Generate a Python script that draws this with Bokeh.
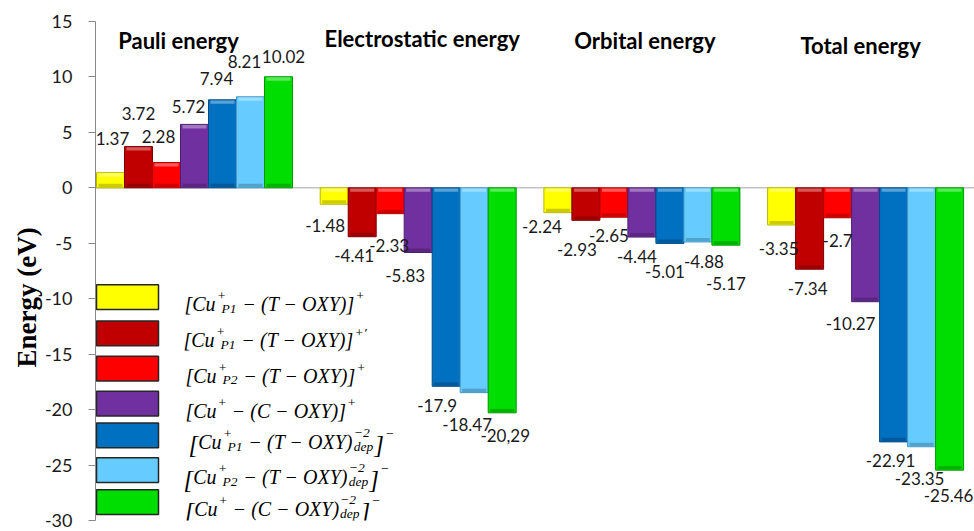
import math
from bokeh.plotting import figure
from bokeh.models import ColumnDataSource, FixedTicker, Span, Title, Range1d
from bokeh.core.properties import value
from bokeh.embed import file_html
from bokeh.resources import INLINE

# ---------------- data ----------------
groups = ["Pauli energy", "Electrostatic energy", "Orbital energy", "Total energy"]
pauli = [1.37, 3.72, 2.28, 5.72, 7.94, 8.21, 10.02]
electrostatic = [-1.48, -4.41, -2.33, -5.83, -17.9, -18.47, -20.29]
orbital = [-2.24, -2.93, -2.65, -4.44, -5.01, -4.88, -5.17]
total = [-3.35, -7.34, -2.7, -10.27, -22.91, -23.35, -25.46]
pauli_labels = ["1.37", "3.72", "2.28", "5.72", "7.94", "8.21", "10.02"]
electrostatic_labels = ["-1.48", "-4.41", "-2.33", "-5.83", "-17.9", "-18.47", "-20,29"]
orbital_labels = ["-2.24", "-2.93", "-2.65", "-4.44", "-5.01", "-4.88", "-5.17"]
total_labels = ["-3.35", "-7.34", "-2.7", "-10.27", "-22.91", "-23.35", "-25.46"]
y_ticks = [-30, -25, -20, -15, -10, -5, 0, 5, 10, 15]
y_label = "Energy (eV)"

# ---------------- style ----------------
colors = ["#FFFF00", "#C00000", "#FF0000", "#7030A0", "#0070C0", "#66CCFF", "#00DD00"]
edges = ["#B8B800", "#7A0000", "#B00000", "#4A1F6E", "#004C85", "#4496C8", "#009A00"]

# label offsets (px): dx from bar centre, dy away from bar end
lab_dx = [[2, 0, -8, -6, -6, -6, 5],
          [-9, -8, -1, -13, -9, -7, 3],
          [-16, -9, -5, -5, -5, 6, 0],
          [-3, -2, 0, -15, -3, -2, -1]]
lab_dy = [[34, 33, 26, 18, 21, 35, 20],
          [21, 19, 32, 23, 19, 32, 23],
          [14, 29, 18, 19, 28, 20, 38],
          [24, 19, 23, 22, 19, 32, 25]]
title_dx = [-16, 4, 3, -5]
title_py = [40, 38, 40, 45]

W, H = 974, 531
BL, BT, BB, BR = 95, 21, 11, 0
FW, FH = W - BL - BR, H - BT - BB
P = 223.7          # px per group
BARPX = 28.0
bw = BARPX / P
X0 = -3.5 * bw - 1.0 / P
X1 = X0 + FW / P
ppy = FH / 45.0


def rx(px):
    return X0 + (px - BL) / P


def ry(py):
    return (189 - py) / 11.2


p = figure(width=W, height=H, output_backend="svg", toolbar_location=None,
           x_range=Range1d(X0, X1), y_range=Range1d(-30, 15),
           min_border_left=BL, min_border_top=BT, min_border_bottom=BB,
           min_border_right=BR)
p.outline_line_color = None
p.xgrid.visible = False
p.ygrid.visible = False
p.xaxis.visible = False
p.background_fill_color = "white"
p.border_fill_color = "white"

ya = p.yaxis[0]
ya.ticker = FixedTicker(ticks=y_ticks)
ya.major_label_overrides = {t: str(t) for t in y_ticks}
ya.major_label_text_font = "Lato"
ya.major_label_text_font_size = "18px"
ya.major_label_text_color = "#1a1a1a"
ya.axis_line_color = "#8a8a8a"
ya.major_tick_line_color = "#8a8a8a"
ya.major_tick_out = 7
ya.major_tick_in = 0
ya.minor_tick_line_color = None
ya.major_label_standoff = 16

# y-axis title: left-aligned from frame bottom, shifted up so it centres near -9.5
p.add_layout(Title(text=y_label, text_font="Liberation Serif", text_font_style="bold",
                   text_font_size="27px", text_color="black", align="left",
                   offset=H - BB - 367, standoff=0), "left")

p.add_layout(Span(location=0, dimension="width", line_color="#a6a6a6",
                  line_width=1, level="underlay"))


def blend(hexc, other, t):
    c = [int(hexc[i:i + 2], 16) for i in (1, 3, 5)]
    o = [int(other[i:i + 2], 16) for i in (1, 3, 5)]
    m = [round(a * (1 - t) + b * t) for a, b in zip(c, o)]
    return "#%02x%02x%02x" % tuple(m)


series = [pauli, electrostatic, orbital, total]
labels = [pauli_labels, electrostatic_labels, orbital_labels, total_labels]

bx, btop, bbot, bfill, bline = [], [], [], [], []
lx, ly, lt = [], [], []
hl_l, hl_r, hl_t, hl_b, hl_c = [], [], [], [], []
dk_l, dk_r, dk_t, dk_b, dk_c = [], [], [], [], []
band = 4.0 / ppy
ins = 2.0 / P
for g, vals in enumerate(series):
    for j, v in enumerate(vals):
        x = g + (j - 3) * bw
        top, bot = max(v, 0), min(v, 0)
        bx.append(x); btop.append(top); bbot.append(bot)
        bfill.append(colors[j]); bline.append(edges[j])
        hl_l.append(x - bw / 2 + ins); hl_r.append(x + bw / 2 - ins)
        hl_t.append(top - 0.6 / ppy); hl_b.append(top - band)
        hl_c.append(blend(colors[j], "#ffffff", 0.35))
        dk_l.append(x - bw / 2 + ins); dk_r.append(x + bw / 2 - ins)
        dk_t.append(bot + band); dk_b.append(bot + 0.6 / ppy)
        dk_c.append(blend(colors[j], "#000000", 0.2))
        s = 1 if v >= 0 else -1
        lx.append(x + lab_dx[g][j] / P)
        ly.append(v + s * lab_dy[g][j] / ppy)
        lt.append(labels[g][j])

p.vbar(x="x", width=bw, top="top", bottom="bot", fill_color="fill",
       line_color="line", line_width=1,
       source=ColumnDataSource(dict(x=bx, top=btop, bot=bbot, fill=bfill, line=bline)))
p.quad(left="l", right="r", top="t", bottom="b", fill_color="c", line_color=None,
       source=ColumnDataSource(dict(l=hl_l, r=hl_r, t=hl_t, b=hl_b, c=hl_c)))
p.quad(left="l", right="r", top="t", bottom="b", fill_color="c", line_color=None,
       source=ColumnDataSource(dict(l=dk_l, r=dk_r, t=dk_t, b=dk_b, c=dk_c)))

p.text(x="x", y="y", text="t", source=ColumnDataSource(dict(x=lx, y=ly, t=lt)),
       text_font=value("Lato"), text_font_size=value("17px"), text_color="#1a1a1a",
       text_align=value("center"), text_baseline=value("middle"))

# group titles
p.text(x=[g + title_dx[g] / P for g in range(4)], y=[ry(v) for v in title_py],
       text=groups, text_font=value("Lato"), text_font_style=value("bold"),
       text_font_size=value("22px"), text_color="black",
       text_align=value("center"), text_baseline=value("middle"))

# ---------------- legend ----------------
leg_rows_py = [299.5, 336, 371.5, 407, 439, 474, 506.5]
leg_text_px = [184, 183, 185, 185, 188, 183, 184]
p.quad(left=[rx(96)] * 7, right=[rx(158)] * 7,
       top=[ry(c - 12.5) for c in leg_rows_py],
       bottom=[ry(c + 12.5) for c in leg_rows_py],
       fill_color=colors, line_color="#262626", line_width=1.5)

legend_segments = [
    [("b", "[Cu"), ("pu", ("+", "P1")), ("b", " − (T − OXY)]"), ("p", "+")],
    [("b", "[Cu"), ("pu", ("+", "P1")), ("b", " − (T − OXY)]"), ("p", "+′")],
    [("b", "[Cu"), ("pu", ("+", "P2")), ("b", " − (T − OXY)]"), ("p", "+")],
    [("b", "[Cu"), ("p", "+"), ("b", " − (C − OXY)]"), ("p", "+")],
    [("B", "["), ("b", "Cu"), ("pu", ("+", "P1")), ("b", " − (T − OXY)"), ("s", ("−2", "dep")), ("B", "]"), ("p", "−")],
    [("B", "["), ("b", "Cu"), ("pu", ("+", "P2")), ("b", " − (T − OXY)"), ("s", ("−2", "dep")), ("B", "]"), ("p", "−")],
    [("B", "["), ("b", "Cu"), ("p", "+"), ("b", " − (C − OXY)"), ("s", ("−2", "dep")), ("B", "]"), ("p", "−")],
]
TW = {'[': 389, ']': 389, 'C': 667, 'u': 500, ' ': 250, '−': 675, '(': 333, ')': 333,
      'T': 556, 'O': 722, 'X': 611, 'Y': 556, '+': 675, 'P': 611, '1': 500, '2': 500,
      'd': 500, 'e': 444, 'p': 500, '′': 300}
BASE = 20.0
SMALL = 13.5
BIG = 25.0


def tw(s, size):
    return sum(TW.get(ch, 500) for ch in s) * size / 1000.0


sx, sy, st, sxo, syo, sfs = [], [], [], [], [], []


def seg(xr, yr, t_, xo, yo, size):
    sx.append(xr); sy.append(yr); st.append(t_); sxo.append(xo)
    syo.append(yo); sfs.append("%.1fpx" % size)


for r, segs in enumerate(legend_segments):
    xr = rx(leg_text_px[r])
    yr = ry(leg_rows_py[r])
    base_y = 7.0
    cur = 0.0
    for kind, txt in segs:
        if kind == "s":
            sup, sub = txt
            seg(xr, yr, sup, cur + 1, base_y - 9, SMALL)
            seg(xr, yr, sub, cur + 1, base_y + 4, SMALL)
            cur += max(tw(sup, SMALL), tw(sub, SMALL)) + 2
        elif kind == "pu":
            sup, sub = txt
            seg(xr, yr, sup, cur + 1.5, base_y - 8, SMALL)
            seg(xr, yr, sub, cur + 6, base_y + 4, SMALL)
            cur += max(tw(sup, SMALL) + 1.5, 6 + tw(sub, SMALL)) + 1
        else:
            size = {"b": BASE, "B": BIG, "p": SMALL}[kind]
            yo = {"b": base_y, "B": base_y + 2, "p": base_y - 8}[kind]
            # SVG drops leading blanks: advance by hand instead
            while txt.startswith(" "):
                cur += tw(" ", size)
                txt = txt[1:]
            seg(xr, yr, txt, cur + (1 if kind == "p" else 0), yo, size)
            cur += tw(txt, size) + (1 if kind == "p" else 0)

p.text(x="x", y="y", text="t", x_offset="xo", y_offset="yo", text_font_size="fs",
       source=ColumnDataSource(dict(x=sx, y=sy, t=st, xo=sxo, yo=syo, fs=sfs)),
       text_font=value("Liberation Serif"), text_font_style=value("italic"),
       text_color="black", text_align=value("left"), text_baseline=value("alphabetic"))

open("out.html", "w").write(file_html(p, INLINE))
